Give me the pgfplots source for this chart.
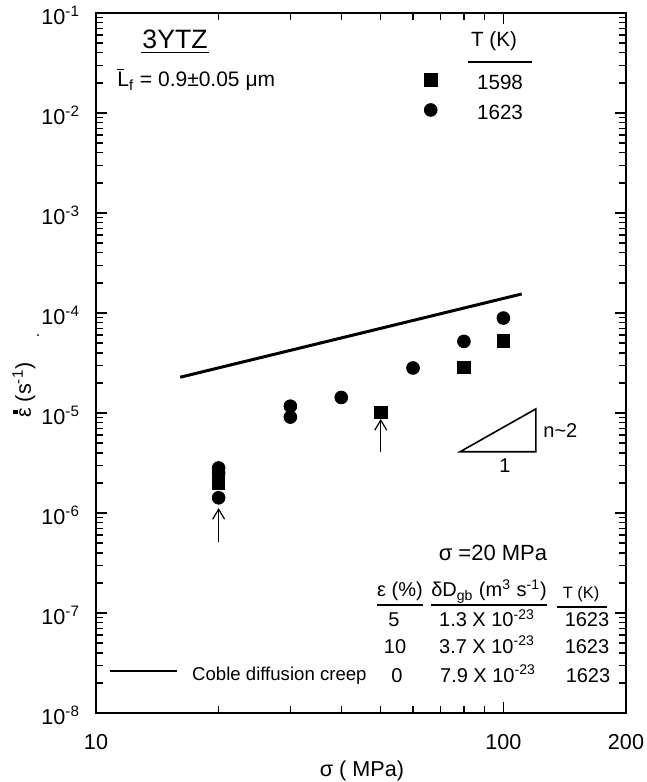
\documentclass[border=0pt]{standalone}
\usepackage{pgfplots}
\pgfplotsset{compat=1.18}
\usepackage{fontspec}
\setmainfont{Liberation Sans}
\usetikzlibrary{arrows.meta}
\newcommand{\fs}[1]{\fontsize{#1}{#1}\selectfont}
\pgfplotsset{
  markonly legend/.style={legend image code/.code={\draw[##1] plot coordinates {(0pt,0pt)};}},
  longline legend/.style={legend image code/.code={\draw[##1] (0pt,0pt) -- (33.5pt,0pt);}},
}
\begin{document}
\begin{tikzpicture}
\begin{axis}[
  scale only axis, width=265pt, height=350pt,
  xmode=log, ymode=log, log basis x=10, log basis y=10,
  xmin=10, xmax=200, ymin=1e-8, ymax=1e-1,
  xtick={10,100,200}, xticklabels={10,100,200},
  minor xtick={20,30,40,50,60,70,80,90},
  yticklabel={10\textsuperscript{\pgfmathparse{int(round(\tick))}\pgfmathresult}},
  tick align=inside,
  major tick length=5.5pt, minor tick length=3.5pt,
  tick style={black, line width=0.7pt},
  axis line style={line width=0.9pt},
  xticklabel style={font=\fs{10.8pt}, yshift=-7pt},
  yticklabel style={font=\fs{10.8pt}, xshift=-4.5pt, yshift=-1pt},
  legend style={draw=none, fill=none, at={(0.6187,0.8829)}, anchor=west,
    inner sep=0pt, row sep=5pt, cells={anchor=west},
    nodes={inner sep=0pt, text depth=0pt, text height=10pt, font=\fs{10.3pt}},
    /tikz/every odd column/.append style={column sep=20pt}},
]
\addplot[forget plot, black, line width=1.5pt] coordinates {(16.1,2.28e-5) (110.9,1.55e-4)};
\addplot[only marks, mark=square*, mark size=3.1pt, black, markonly legend] coordinates {
  (20,2.25e-6) (20,2.0e-6) (50,1.02e-5) (80,2.86e-5) (100,5.28e-5)};
\addlegendentry{1598}
\addplot[only marks, mark=*, mark size=3.2pt, black, markonly legend] coordinates {
  (20,2.82e-6) (20,2.5e-6) (20,1.42e-6) (30,1.17e-5) (30,9.1e-6) (40,1.43e-5)
  (60,2.82e-5) (80,5.2e-5) (100,8.9e-5)};
\addlegendentry{1623}
\draw[-{Straight Barb[length=5pt,width=6pt]}, line width=0.6pt] (axis cs:20,5.1e-7) -- (axis cs:20,1.12e-6);
\draw[-{Straight Barb[length=5pt,width=6pt]}, line width=0.6pt] (axis cs:50,4.05e-6) -- (axis cs:50,8.7e-6);
\draw[line width=0.8pt] (axis cs:78.3,4.1e-6) -- (axis cs:120.2,4.1e-6) -- (axis cs:120.2,1.1e-5) -- cycle;
\end{axis}
\begin{axis}[
  scale only axis, width=265pt, height=350pt, hide axis,
  xmin=0, xmax=1, ymin=0, ymax=1,
  legend style={draw=none, fill=none, at={(0.0226,0.06)}, anchor=west,
    inner sep=0pt, cells={anchor=west},
    nodes={inner sep=0pt, text depth=0pt, text height=10pt, font=\fs{9.3pt}},
    /tikz/every odd column/.append style={column sep=7pt}},
]
\addlegendimage{black, line width=1.4pt, longline legend}
\addlegendentry{Coble diffusion creep}
\end{axis}
\begin{scope}[shift={(-48pt,356.5pt)}, x=0.5pt, y=-0.5pt]
  % title block
  \node[font=\fs{13.3pt}, anchor=base, inner sep=0pt] at (175,49) {3YTZ};
  \draw[line width=0.8pt] (141,52.5) -- (209,52.5);
  \node[font=\fs{10.5pt}, anchor=base west, inner sep=0pt] at (117,87)
    {\makebox[0pt][l]{\raisebox{0.8em}{\rule{0.32em}{0.06em}}}L\textsubscript{f} = 0.9±0.05 μm};
  % legend header
  \node[font=\fs{10.3pt}, anchor=base, inner sep=0pt] at (494,47) {T (K)};
  \draw[line width=0.7pt] (468,62) -- (532,62);
  % slope triangle labels
  \node[font=\fs{10pt}, anchor=base west, inner sep=0pt] at (543,438) {n\textasciitilde2};
  \node[font=\fs{10pt}, anchor=base, inner sep=0pt] at (505,473) {1};
  % table
  \node[font=\fs{11pt}, anchor=base, inner sep=0pt] at (493,561) {σ =20 MPa};
  \node[font=\fs{10pt}, anchor=base, inner sep=0pt] at (400,597) {ε (\%)};
  \node[font=\fs{10pt}, anchor=base, inner sep=0pt] at (489,597) {δD\textsubscript{gb} (m\textsuperscript{3} s\textsuperscript{-1})};
  \node[font=\fs{8.2pt}, anchor=base, inner sep=0pt] at (581,599) {T (K)};
  \draw[line width=0.65pt] (377,605) -- (423,605);
  \draw[line width=0.65pt] (431,605) -- (547,605);
  \draw[line width=0.65pt] (557,607) -- (607,607);
  \node[font=\fs{10pt}, anchor=base, inner sep=0pt] at (394,627) {5};
  \node[font=\fs{10pt}, anchor=base, inner sep=0pt] at (487,627) {1.3 X 10\textsuperscript{-23}};
  \node[font=\fs{10pt}, anchor=base, inner sep=0pt] at (587,627) {1623};
  \node[font=\fs{10pt}, anchor=base, inner sep=0pt] at (395,653) {10};
  \node[font=\fs{10pt}, anchor=base, inner sep=0pt] at (487,653) {3.7 X 10\textsuperscript{-23}};
  \node[font=\fs{10pt}, anchor=base, inner sep=0pt] at (587,653) {1623};
  \node[font=\fs{10pt}, anchor=base, inner sep=0pt] at (397,682) {0};
  \node[font=\fs{10pt}, anchor=base, inner sep=0pt] at (488,682) {7.9 X 10\textsuperscript{-23}};
  \node[font=\fs{10pt}, anchor=base, inner sep=0pt] at (588,682) {1623};
  % axis labels
  \node[font=\fs{10.8pt}, rotate=90, inner sep=0pt] at (24,390)
    {\makebox[0pt][l]{\kern0.17em\raisebox{0.62em}{\rule{2.1pt}{2.1pt}}}ε (s\textsuperscript{-1})};
  \node[font=\fs{8pt}, inner sep=0pt] at (38,336) {.};
  \node[font=\fs{10.8pt}, anchor=base, inner sep=0pt] at (362,776) {σ ( MPa)};
\end{scope}
\pgfresetboundingbox
\begin{scope}[shift={(-48pt,356.5pt)}, x=0.5pt, y=-0.5pt]
  \path (0,0) rectangle (647,782);
\end{scope}
\end{tikzpicture}
\end{document}
